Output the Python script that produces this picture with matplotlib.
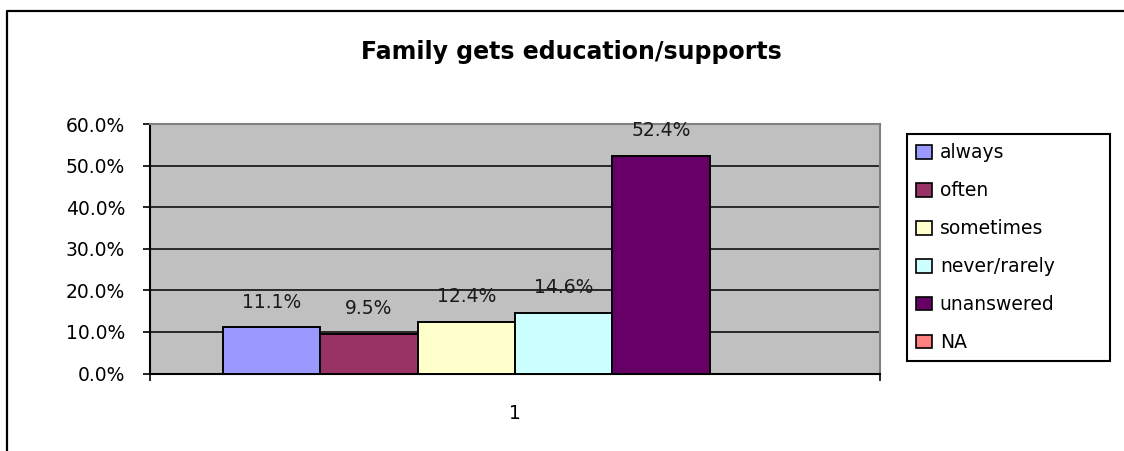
import matplotlib
matplotlib.use('Agg')
import matplotlib.pyplot as plt
from matplotlib.patches import Patch
from matplotlib.lines import Line2D

# survey answers for the single question group
categories = ['always', 'often', 'sometimes', 'never/rarely', 'unanswered', 'NA']
percent = [11.1, 9.5, 12.4, 14.6, 52.4, None]
colors = ['#9999FF', '#993366', '#FFFFCC', '#CCFFFF', '#660066', '#FF8080']
group_label = '1'
yticks = [0, 10, 20, 30, 40, 50, 60]

plt.rcParams['font.family'] = 'DejaVu Sans'

W, H = 1124.0, 451.0
fig = plt.figure(figsize=(W / 100, H / 100), dpi=100)

ax = fig.add_axes([150 / W, 1 - 373.5 / H, 730 / W, 249.5 / H])
ax.set_facecolor('#C0C0C0')

n = len(categories)
width = 1.0 / (n + 1.5)
start = 1 - n * width / 2
for i in range(n):
    if percent[i] is None:
        continue
    x = start + (i + 0.5) * width
    ax.bar(x, percent[i], width=width, color=colors[i], edgecolor='black',
           linewidth=1.4, zorder=3)
    ax.annotate('%.1f%%' % percent[i], (x, percent[i]), xytext=(0, 18),
                textcoords='offset points', ha='center', va='center',
                fontsize=13.5, color='#1a1a1a', zorder=4)

ax.set_xlim(0.5, 1.5)
ax.set_ylim(0, 60)
ax.set_yticks(yticks)
ax.set_yticklabels(['%.1f%%' % v for v in yticks], fontsize=13.5)
ax.set_xticks([0.5, 1.5])
ax.set_xticklabels(['', ''])
ax.set_xticks([1], minor=True)
ax.set_xticklabels([group_label], minor=True, fontsize=13.5)
ax.tick_params(axis='y', direction='out', length=5, width=1.2, pad=13)
ax.tick_params(axis='x', which='major', direction='out', length=5, width=1.2)
ax.tick_params(axis='x', which='minor', length=0, pad=22)

# black gridlines between the ends of the value axis
for v in yticks[1:-1]:
    ax.axhline(v, color='black', linewidth=1.1, zorder=1)

for side in ['left', 'bottom']:
    ax.spines[side].set_color('black')
    ax.spines[side].set_linewidth(1.5)
for side in ['top', 'right']:
    ax.spines[side].set_color('#808080')
    ax.spines[side].set_linewidth(1.5)

# chart area border
fig.add_artist(Line2D([7 / W, 7 / W, 1.0], [0, 440 / H, 440 / H],
                      transform=fig.transFigure, color='black', linewidth=1.6))

fig.text(571 / W, 1 - 52 / H, 'Family gets education/supports',
         ha='center', va='center', fontsize=17, fontweight='bold')

handles = [Patch(facecolor=c, edgecolor='black', linewidth=1.2, label=l)
           for c, l in zip(colors, categories)]
leg = fig.legend(handles=handles, loc='upper left',
                 bbox_to_anchor=(907 / W, 89 / H, 203 / W, 228 / H),
                 mode='expand', borderaxespad=0, fontsize=13.5,
                 handlelength=0.85, handleheight=0.75, handletextpad=0.4,
                 labelspacing=1.01, borderpad=0.5, fancybox=False,
                 framealpha=1)
leg.get_frame().set_edgecolor('black')
leg.get_frame().set_linewidth(1.5)

fig.savefig('out.png', dpi=100)
